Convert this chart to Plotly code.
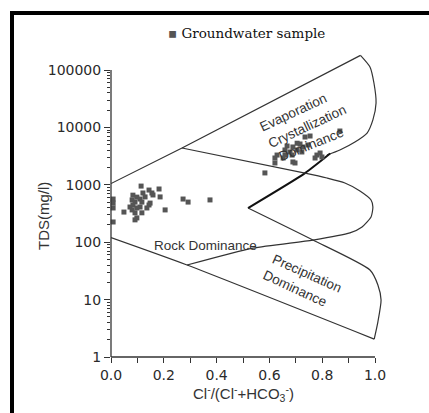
import plotly.graph_objects as go

# ---------------- data ----------------
# Groundwater samples: Cl-/(Cl- + HCO3-) ratio and TDS (mg/l)
left_ratio = [0.114, 0.083, 0.098, 0.121, 0.144, 0.155, 0.182, 0.080, 0.091, 0.110,
              0.129, 0.159, 0.186, 0.008, 0.008, 0.072, 0.083, 0.110, 0.098, 0.148,
              0.008, 0.117, 0.144, 0.049, 0.080, 0.091, 0.098, 0.117, 0.136, 0.205,
              0.008, 0.273, 0.292, 0.375, 0.091]
left_tds = [950, 660, 610, 720, 810, 720, 845, 545, 500, 565,
            615, 665, 615, 565, 480, 410, 445, 410, 395, 480,
            395, 500, 445, 335, 365, 325, 265, 325, 395, 365,
            225, 565, 500, 545, 245]
right_ratio = [0.867, 0.735, 0.754, 0.667, 0.689, 0.716, 0.727, 0.746, 0.659, 0.678,
               0.705, 0.723, 0.629, 0.659, 0.686, 0.621, 0.652, 0.621, 0.689, 0.697,
               0.780, 0.792, 0.773, 0.799, 0.583, 0.705]
right_tds = [8650, 6800, 7080, 4740, 4560, 5140, 4560, 4940, 4040, 3730,
             4040, 3730, 3300, 3300, 3300, 2930, 2930, 2400, 2500, 2400,
             3300, 3580, 2930, 3050, 1610, 5300]

# Gibbs diagram boundaries (x = ratio, y = TDS)
upper_x = [0.0, 0.269, 0.945]
upper_y = [1050, 4380, 180000]
arc_x = [0.945, 0.981, 0.996, 1.004, 0.992, 0.970, 0.924, 0.867, 0.818]
arc_y = [180000, 113000, 59400, 26600, 13500, 7980, 5570, 4040, 3300]
varm_up_x = [0.830, 0.735, 0.519]
varm_up_y = [3500, 1600, 394]
bulge_x = [0.269, 0.735, 0.818, 0.886, 0.943, 0.985, 0.992, 0.985, 0.951, 0.905, 0.765, 0.538, 0.288]
bulge_y = [4380, 1600, 1313, 1075, 780, 543, 410, 275, 184, 145, 109, 79, 40]
lower_x = [0.0, 0.288, 0.997]
lower_y = [120, 40, 2.05]
varm_low_x = [0.519, 0.765, 0.981, 1.011, 1.023, 1.011, 0.997]
varm_low_y = [394, 109, 32.8, 18, 9.8, 4.1, 2.05]

x_tickvals = [0.0, 0.2, 0.4, 0.6, 0.8, 1.0]
x_ticktext = ["0.0", "0.2", "0.4", "0.6", "0.8", "1.0"]
x_minor = [0.1, 0.3, 0.5, 0.7, 0.9]
y_tickvals = [1, 10, 100, 1000, 10000, 100000]
y_ticktext = ["1", "10", "100", "1000", "10000", "100000"]
y_minor = [m * 10 ** d for d in range(5) for m in range(2, 10)]

# ---------------- layout constants ----------------
WIDTH, HEIGHT = 429, 413
L, T, B = 111, 49, 56
PW = 275                      # plot width px
XMAX = 275 / 264              # x=1.0 at 264 px
PH = HEIGHT - T - B           # 308
DEC = 57.4                    # px per decade
YMAX = PH / DEC
R = WIDTH - L - PW

line_col = "#333333"
fig = go.Figure()

def add_line(xs, ys, w=1.2, col=line_col):
    fig.add_trace(go.Scatter(x=xs, y=ys, mode="lines", showlegend=False,
                             line=dict(color=col, width=w, shape="spline", smoothing=0.6),
                             hoverinfo="skip"))

add_line(upper_x, upper_y)
add_line(arc_x, arc_y)
add_line(varm_up_x, varm_up_y, w=2.0, col="#111111")
add_line(bulge_x, bulge_y)
add_line(lower_x, lower_y)
add_line(varm_low_x, varm_low_y)

fig.add_trace(go.Scatter(x=left_ratio + right_ratio, y=left_tds + right_tds, mode="markers",
                         name="Groundwater sample", showlegend=False, cliponaxis=False,
                         marker=dict(symbol="square", size=5, color="#555555")))

tickfont = dict(family="DejaVu Sans", size=14, color="#2a2a2a")
fig.update_xaxes(range=[0, XMAX], showline=False, showgrid=False, zeroline=False,
                 tickmode="array", tickvals=x_tickvals, ticktext=x_ticktext,
                 ticks="outside", ticklen=5, tickwidth=1.2, tickcolor=line_col,
                 tickfont=tickfont,
                 minor=dict(tickmode="array", tickvals=x_minor, ticks="outside",
                            ticklen=5, tickwidth=1.2, tickcolor=line_col))
fig.update_yaxes(type="log", range=[0, YMAX], showline=False, showgrid=False, zeroline=False,
                 tickmode="array", tickvals=y_tickvals, ticktext=y_ticktext,
                 ticks="outside", ticklen=6, tickwidth=1.2, tickcolor=line_col,
                 tickfont=tickfont,
                 minor=dict(tickmode="array", tickvals=y_minor, ticks="outside",
                            ticklen=3, tickwidth=1, tickcolor=line_col))

def px2paper(px, py):
    return (px - L) / PW, (HEIGHT - B - py) / PH

shapes = []
# axis lines
shapes.append(dict(type="line", xref="paper", yref="paper", x0=0, x1=0, y0=0, y1=5 / YMAX,
                   line=dict(color=line_col, width=1.3)))
shapes.append(dict(type="line", xref="paper", yref="paper", x0=0, x1=1 / XMAX, y0=0, y1=0,
                   line=dict(color=line_col, width=1.3)))
# thick frame on left and top
x_l, y_t = px2paper(12, 13)
x_r, y_b = px2paper(432, 416)
_, y_top_start = px2paper(0, 11)
shapes.append(dict(type="line", xref="paper", yref="paper", x0=x_l, x1=x_l, y0=y_b, y1=y_top_start,
                   line=dict(color="black", width=4)))
shapes.append(dict(type="line", xref="paper", yref="paper", x0=x_l - 0.007, x1=x_r, y0=y_t, y1=y_t,
                   line=dict(color="black", width=4)))

annotations = []
region_font = dict(family="Liberation Sans", size=13.5, color="#333333")

def add_region_label(text, px, py, angle):
    xp, yp = px2paper(px, py)
    annotations.append(dict(text=text, xref="paper", yref="paper", x=xp, y=yp,
                            xanchor="center", yanchor="middle", showarrow=False,
                            textangle=angle, font=region_font))

add_region_label("Evaporation", 293, 112, -25)
add_region_label("Crystallization", 307, 126, -25)
add_region_label("Dominance", 311, 144, -22)
add_region_label("Rock Dominance", 205, 245, 0)
add_region_label("Precipitation", 307, 273, 24)
add_region_label("Dominance", 295, 288, 25)

# legend-like label
xp, yp = px2paper(246, 33)
annotations.append(dict(text='<span style="color:#555555">▪</span> Groundwater sample',
                        xref="paper", yref="paper", x=xp, y=yp, xanchor="center", yanchor="middle",
                        showarrow=False, font=dict(family="DejaVu Serif", size=13.5, color="#111111")))
# axis titles
xp, yp = px2paper(243, 393)
annotations.append(dict(text="Cl<sup>-</sup>/(Cl<sup>-</sup>+HCO<sub>3</sub><sup>-</sup>)",
                        xref="paper", yref="paper", x=xp, y=yp, xanchor="center", yanchor="middle",
                        showarrow=False, font=dict(family="Liberation Sans", size=15, color="#333333")))
xp, yp = px2paper(44, 216)
annotations.append(dict(text="TDS(mg/l)", xref="paper", yref="paper", x=xp, y=yp,
                        xanchor="center", yanchor="middle", textangle=-90, showarrow=False,
                        font=dict(family="Liberation Sans", size=15, color="#333333")))

fig.update_layout(width=WIDTH, height=HEIGHT, margin=dict(l=L, r=R, t=T, b=B, pad=0),
                  paper_bgcolor="white", plot_bgcolor="white", showlegend=False,
                  shapes=shapes, annotations=annotations)

fig.write_html("out.html")
